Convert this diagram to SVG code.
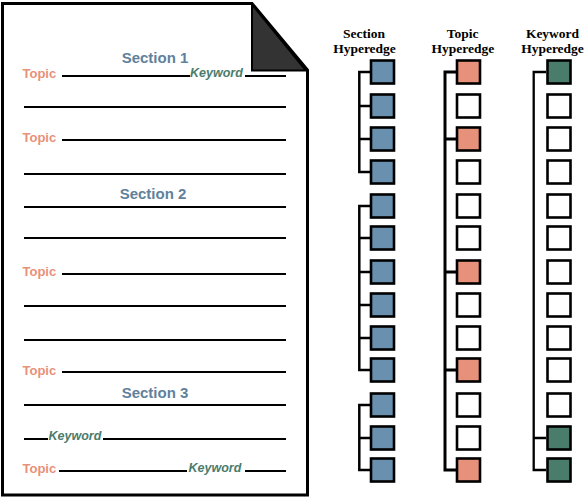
<svg xmlns="http://www.w3.org/2000/svg" width="584" height="498" viewBox="0 0 584 498">
<style>
.page{fill:#fff;stroke:#000;stroke-width:3;stroke-linejoin:miter}
.fold{fill:#333;stroke:#000;stroke-width:2}
.ln{stroke:#000;stroke-width:2.2;fill:none}
.sec{font-family:"Liberation Sans",Arial,sans-serif;font-weight:bold;font-size:15px;fill:#5f819c;text-anchor:middle}
.top{font-family:"Liberation Sans",Arial,sans-serif;font-weight:bold;font-size:13px;fill:#e8907a}
.kw{font-family:"Liberation Sans",Arial,sans-serif;font-weight:bold;font-style:italic;font-size:12.5px;fill:#4a7c6c}
.hd{font-family:"Liberation Serif","Times New Roman",serif;font-weight:bold;font-size:13.5px;fill:#000;text-anchor:middle}
.sq{stroke:#000;stroke-width:2.6}
.b{fill:#6990ae}.t{fill:#e8917a}.g{fill:#4a7c6c}.w{fill:#fff}
.br{stroke:#000;fill:none;stroke-linejoin:miter;stroke-linecap:butt}
</style>
<g id="document">
<polygon class="page" points="2.5,3.5 252,3.5 307.5,70 307.5,495 2.5,495"/>
<polygon class="fold" points="252,4.5 252,70.5 306,70.5"/>
<text class="sec" x="155" y="63">Section 1</text>
<text class="sec" x="153" y="198.5">Section 2</text>
<text class="sec" x="155" y="398">Section 3</text>
<text class="top" x="22.5" y="78">Topic</text>
<text class="top" x="22.5" y="142">Topic</text>
<text class="top" x="22.5" y="275.5">Topic</text>
<text class="top" x="22.5" y="374.5">Topic</text>
<text class="top" x="22.5" y="473">Topic</text>
<text class="kw" x="190" y="76.5">Keyword</text>
<text class="kw" x="48.5" y="439.5">Keyword</text>
<text class="kw" x="188.5" y="471.5">Keyword</text>
<path class="ln" d="M62 76H190M245 76H286M24 107H286M62 140H286M24 174H286M24 207H286M24 238H286M62 274H286M24 306H286M24 340H286M62 372H286M24 405H286M24 439H48M103 439H286M59 471H187M245 471H286"/>
</g>
<g id="headers">
<text class="hd" x="364" y="37.5">Section</text>
<text class="hd" x="364.5" y="52.5">Hyperedge</text>
<text class="hd" x="462.7" y="37.5">Topic</text>
<text class="hd" x="462.8" y="52.5">Hyperedge</text>
<text class="hd" x="552.5" y="37.5">Keyword</text>
<text class="hd" x="552.5" y="52.5">Hyperedge</text>
</g>
<g id="connectors">
<path class="br" stroke-width="2.5" d="M370 72H359.3V172H370M359.3 106H370M359.3 139H370"/>
<path class="br" stroke-width="2.5" d="M370 206H359.3V370H370M359.3 238H370M359.3 272H370M359.3 305H370M359.3 338H370"/>
<path class="br" stroke-width="2.5" d="M370 405H359.3V470H370M359.3 438H370"/>
<path class="br" stroke-width="3" d="M456 72H445V470H456M445 139H456M445 272H456M445 370H456"/>
<path class="br" stroke-width="2.3" d="M546 72H533.7V470H546M533.7 438H546"/>
</g>
<g id="section-hyperedge">
<rect class="sq b" x="371" y="60.5" width="23" height="23"/>
<rect class="sq b" x="371" y="94.5" width="23" height="23"/>
<rect class="sq b" x="371" y="127.5" width="23" height="23"/>
<rect class="sq b" x="371" y="160.5" width="23" height="23"/>
<rect class="sq b" x="371" y="194.5" width="23" height="23"/>
<rect class="sq b" x="371" y="226.5" width="23" height="23"/>
<rect class="sq b" x="371" y="260.5" width="23" height="23"/>
<rect class="sq b" x="371" y="293.5" width="23" height="23"/>
<rect class="sq b" x="371" y="326.5" width="23" height="23"/>
<rect class="sq b" x="371" y="358.5" width="23" height="23"/>
<rect class="sq b" x="371" y="393.5" width="23" height="23"/>
<rect class="sq b" x="371" y="426.5" width="23" height="23"/>
<rect class="sq b" x="371" y="458.5" width="23" height="23"/>
</g>
<g id="topic-hyperedge">
<rect class="sq t" x="457" y="60.5" width="23" height="23"/>
<rect class="sq w" x="457" y="94.5" width="23" height="23"/>
<rect class="sq t" x="457" y="127.5" width="23" height="23"/>
<rect class="sq w" x="457" y="160.5" width="23" height="23"/>
<rect class="sq w" x="457" y="194.5" width="23" height="23"/>
<rect class="sq w" x="457" y="226.5" width="23" height="23"/>
<rect class="sq t" x="457" y="260.5" width="23" height="23"/>
<rect class="sq w" x="457" y="293.5" width="23" height="23"/>
<rect class="sq w" x="457" y="326.5" width="23" height="23"/>
<rect class="sq t" x="457" y="358.5" width="23" height="23"/>
<rect class="sq w" x="457" y="393.5" width="23" height="23"/>
<rect class="sq w" x="457" y="426.5" width="23" height="23"/>
<rect class="sq t" x="457" y="458.5" width="23" height="23"/>
</g>
<g id="keyword-hyperedge">
<rect class="sq g" x="547.5" y="60.5" width="23" height="23"/>
<rect class="sq w" x="547.5" y="94.5" width="23" height="23"/>
<rect class="sq w" x="547.5" y="127.5" width="23" height="23"/>
<rect class="sq w" x="547.5" y="160.5" width="23" height="23"/>
<rect class="sq w" x="547.5" y="194.5" width="23" height="23"/>
<rect class="sq w" x="547.5" y="226.5" width="23" height="23"/>
<rect class="sq w" x="547.5" y="260.5" width="23" height="23"/>
<rect class="sq w" x="547.5" y="293.5" width="23" height="23"/>
<rect class="sq w" x="547.5" y="326.5" width="23" height="23"/>
<rect class="sq w" x="547.5" y="358.5" width="23" height="23"/>
<rect class="sq w" x="547.5" y="393.5" width="23" height="23"/>
<rect class="sq g" x="547.5" y="426.5" width="23" height="23"/>
<rect class="sq g" x="547.5" y="458.5" width="23" height="23"/>
</g>
</svg>
